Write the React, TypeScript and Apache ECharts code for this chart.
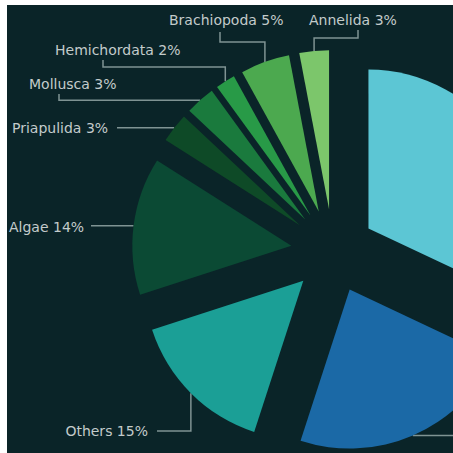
import React, { useEffect, useRef } from 'react';
import * as echarts from 'echarts';

// ---- data ----
const names = ['Arthropoda', 'Chordata', 'Others', 'Algae', 'Priapulida', 'Mollusca', 'Hemichordata', 'Brachiopoda', 'Annelida'];
const values = [32, 23, 15, 14, 3, 3, 2, 5, 3];
const colors = ['#5cc6d4', '#1b69a6', '#1b9f96', '#0b4a34', '#0e4a27', '#1a7a3d', '#289a47', '#4ca94f', '#7cc66b'];
const showText = [false, false, true, true, true, true, true, true, true];
const showLine = [false, true, true, true, true, true, true, true, true];

// ---- layout ----
const CENTER = [326, 246];
const RADIUS = 159;
const OFFSET = 42;

type Route = { x: number; y: number; align: 'left' | 'right'; elbowY?: number; endX: number; endY?: number } | null;
const labelRoutes: Route[] = [
  null,
  { x: 480, y: 430, align: 'left', endX: 480 },
  { x: 141, y: 426, align: 'right', elbowY: 426, endX: 150 },
  { x: 2, y: 222, align: 'left', endX: 84 },
  { x: 5, y: 123, align: 'left', endX: 110 },
  { x: 22, y: 79, align: 'left', endX: 52, endY: 89 },
  { x: 48, y: 45, align: 'left', elbowY: 62, endX: 96, endY: 55 },
  { x: 162, y: 15, align: 'left', elbowY: 37, endX: 213, endY: 27 },
  { x: 302, y: 15, align: 'left', elbowY: 33, endX: 351, endY: 25 },
];

const total = values.reduce((a, b) => a + b, 0);
let cumulative = 0;
const geom = values.map((v) => {
  const mid = -Math.PI / 2 + (2 * Math.PI * (cumulative + v / 2)) / total;
  cumulative += v;
  const dx = Math.cos(mid) * OFFSET;
  const dy = Math.sin(mid) * OFFSET;
  return {
    ax: CENTER[0] + dx + RADIUS * Math.cos(mid),
    ay: CENTER[1] + dy + RADIUS * Math.sin(mid),
  };
});

export default function App() {
  const ref = useRef<HTMLDivElement>(null);
  useEffect(() => {
    if (!ref.current) return;
    const chart = echarts.init(ref.current, undefined, { renderer: 'svg' });
    chart.setOption({
      animation: false,
      backgroundColor: '#0a2428',
      series: [
        {
          type: 'pie',
          center: CENTER,
          radius: RADIUS,
          startAngle: 90,
          clockwise: true,
          selectedMode: 'multiple',
          selectedOffset: OFFSET,
          silent: true,
          emphasis: { disabled: true },
          select: { itemStyle: { borderWidth: 0 } },
          label: { show: false },
          labelLine: { show: false },
          data: names.map((n, i) => ({
            name: n,
            value: values[i],
            selected: true,
            itemStyle: { color: colors[i] },
          })),
        },
        {
          type: 'pie',
          center: CENTER,
          radius: RADIUS,
          startAngle: 90,
          clockwise: true,
          silent: true,
          avoidLabelOverlap: false,
          emphasis: { disabled: true },
          itemStyle: { color: 'rgba(0,0,0,0)' },
          label: {
            show: true,
            position: 'outside',
            color: '#c3cbcb',
            fontSize: 14,
            fontFamily: 'DejaVu Sans',
            formatter: (p: any) => (showText[p.dataIndex] ? `${p.name} ${p.value}%` : ''),
          },
          labelLine: {
            show: true,
            lineStyle: { color: '#7f9393', width: 1.5, opacity: 1 },
          },
          labelLayout: (p: any) => {
            const i = p.dataIndex;
            const r = labelRoutes[i];
            if (!r) return {};
            const g = geom[i];
            const pts: number[][] = [[g.ax, g.ay]];
            if (r.elbowY != null) {
              pts.push([g.ax, r.elbowY]);
              pts.push([r.endX, r.elbowY]);
            } else {
              pts.push([r.endX, g.ay]);
            }
            if (r.endY != null) pts.push([r.endX, r.endY]);
            return {
              x: r.x,
              y: r.y,
              align: r.align,
              verticalAlign: 'middle',
              labelLinePoints: pts,
            };
          },
          data: names.map((n, i) => ({
            name: n,
            value: values[i],
            label: { show: showLine[i] },
            labelLine: { show: showLine[i] },
          })),
        },
      ],
    });
    return () => chart.dispose();
  }, []);
  return <div ref={ref} style={{ position: 'fixed', left: 7, top: 5, width: 446, height: 448 }} />;
}
